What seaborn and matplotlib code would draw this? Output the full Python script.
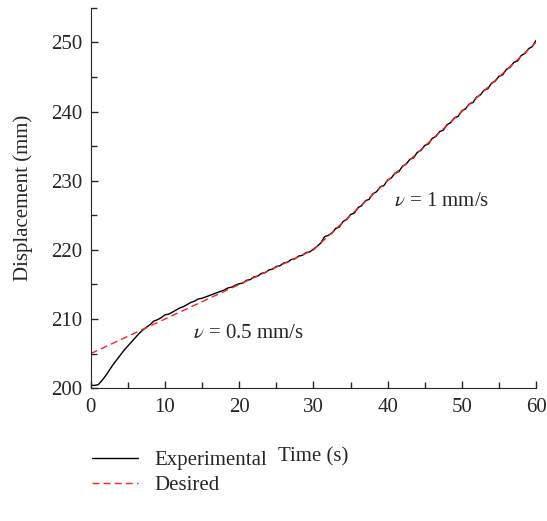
import numpy as np
import pandas as pd
import matplotlib
matplotlib.use("Agg")
import matplotlib.pyplot as plt
from matplotlib.ticker import MultipleLocator
import seaborn as sns

# --- data ---
desired_t = [0, 30, 60]
desired_d = [205, 220, 250]

exp_t = [i * 0.5 for i in range(121)]
exp_d = [
    200.4, 200.4, 200.5, 201.1, 201.8, 202.6, 203.4, 204.1, 204.8, 205.5,
    206.1, 206.7, 207.3, 207.9, 208.4, 208.8, 209.2, 209.7, 209.9, 210.2,
    210.6, 210.7, 211.0, 211.3, 211.6, 211.8, 212.1, 212.4, 212.6, 212.9,
    213.0, 213.2, 213.4, 213.6, 213.8, 214.0, 214.2, 214.5, 214.6, 214.9,
    215.1, 215.2, 215.6, 215.7, 216.1, 216.2, 216.6, 216.7, 217.1, 217.2,
    217.6, 217.7, 218.1, 218.2, 218.6, 218.7, 219.1, 219.2, 219.6, 219.7,
    220.1, 220.5, 221.0, 221.9, 222.1, 222.4, 223.1, 223.3, 224.1, 224.4,
    225.1, 225.3, 226.1, 226.4, 227.1, 227.3, 228.1, 228.4, 229.1, 229.3,
    230.1, 230.4, 231.1, 231.3, 232.1, 232.4, 233.1, 233.3, 234.1, 234.4,
    235.1, 235.3, 236.1, 236.4, 237.1, 237.3, 238.1, 238.4, 239.1, 239.3,
    240.1, 240.4, 241.1, 241.3, 242.1, 242.4, 243.1, 243.3, 244.1, 244.4,
    245.1, 245.3, 246.1, 246.4, 247.1, 247.3, 248.1, 248.4, 249.1, 249.4,
    250.3,
]

exp_df = pd.DataFrame({"t": exp_t, "d": exp_d})
des_df = pd.DataFrame({"t": desired_t, "d": desired_d})

sns.set_style("ticks")
plt.rcParams["font.family"] = ["Liberation Serif", "DejaVu Serif"]
plt.rcParams["mathtext.fontset"] = "stix"

FS = 15

fig = plt.figure(figsize=(5.47, 5.21), dpi=100)
ax = fig.add_axes([0.166, 0.255, 0.814, 0.73])

sns.lineplot(data=exp_df, x="t", y="d", ax=ax, color="black", lw=1.0,
             label="Experimental")
sns.lineplot(data=des_df, x="t", y="d", ax=ax, color="#ff2020", lw=1.0,
             linestyle=(0, (5, 3)), label="Desired")

ax.set_xlim(0, 60)
ax.set_ylim(200, 255)
ax.xaxis.set_major_locator(MultipleLocator(10))
ax.xaxis.set_minor_locator(MultipleLocator(5))
ax.yaxis.set_major_locator(MultipleLocator(10))
ax.yaxis.set_minor_locator(MultipleLocator(5))
ax.tick_params(which="both", direction="in", labelsize=FS, width=1)
ax.tick_params(which="major", length=5)
ax.tick_params(which="minor", length=4)
ax.tick_params(axis="x", pad=7)
ax.tick_params(axis="y", pad=6)
for s in ["top", "right"]:
    ax.spines[s].set_visible(False)

ax.set_xlabel("Time (s)", fontsize=FS, labelpad=22)
ax.set_ylabel("Displacement (mm)", fontsize=FS, labelpad=13)

ax.text(13.8, 207.3, r"$\nu$ = 0.5 mm/s", fontsize=FS)
ax.text(40.8, 226.3, r"$\nu$ = 1 mm/s", fontsize=FS)

ax.legend(loc="upper left", bbox_to_anchor=(0.168, 0.135),
          bbox_transform=fig.transFigure, frameon=False, fontsize=FS,
          handlelength=2.2, handletextpad=0.8, labelspacing=0.25,
          borderpad=0, borderaxespad=0)

fig.savefig("out.png", dpi=100)
